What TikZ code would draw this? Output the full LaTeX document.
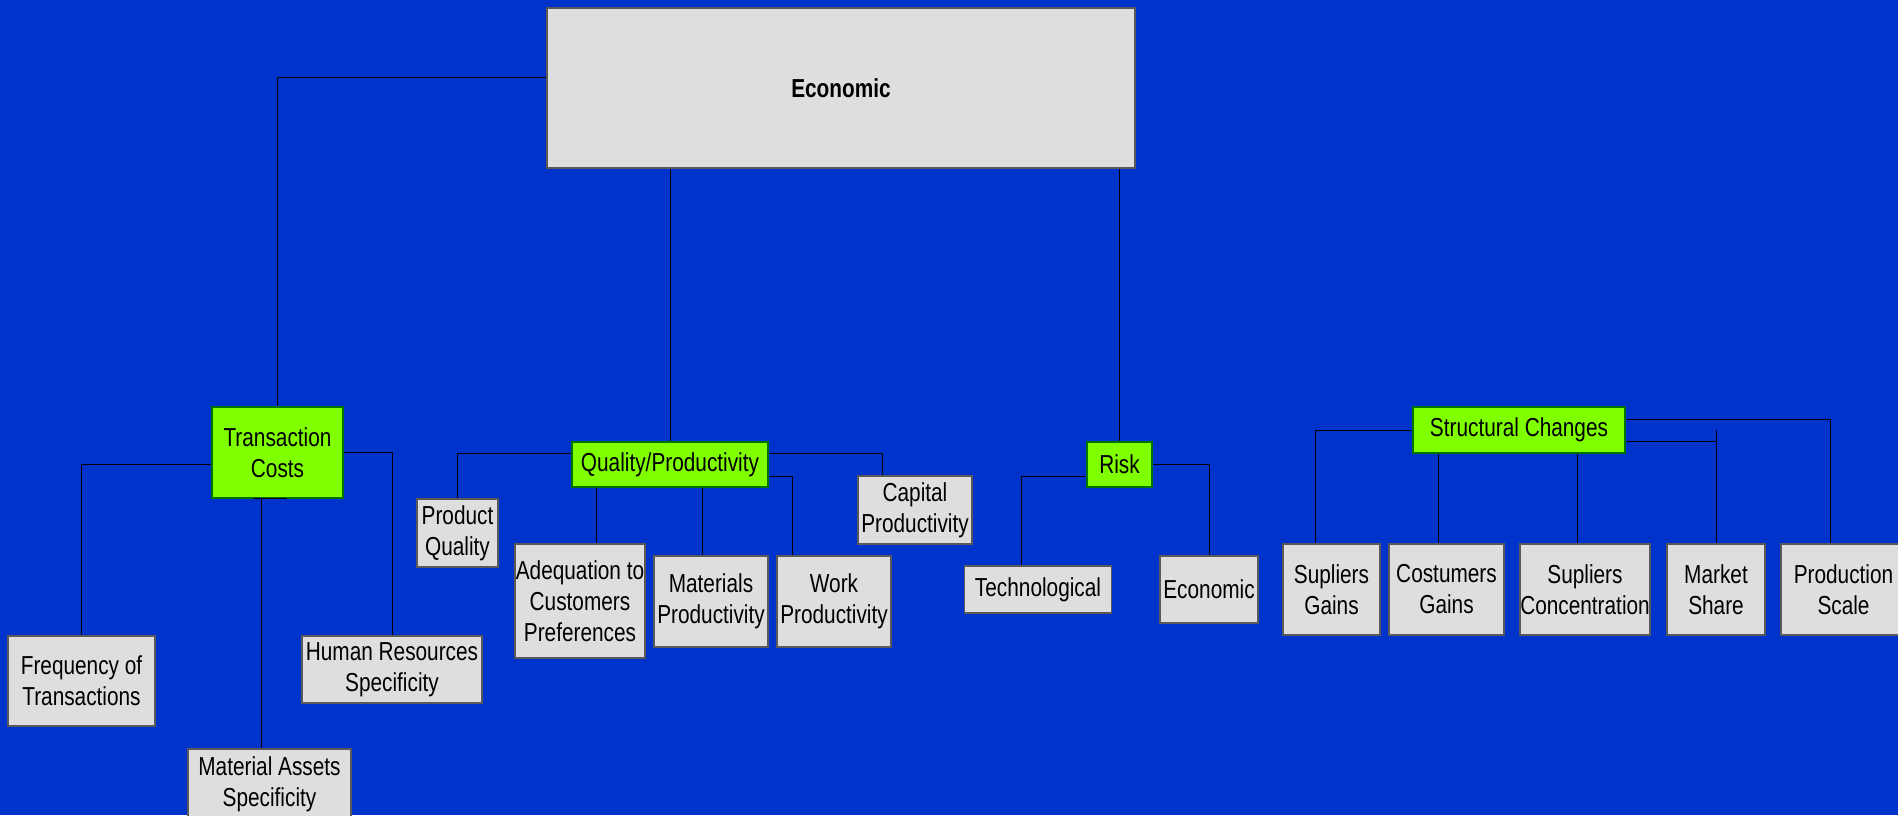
\documentclass[tikz,border=0pt]{standalone}
\usepackage{fontspec}
\setmainfont[FakeStretch=0.8]{Liberation Sans}
\definecolor{bgblue}{RGB}{0,51,204}
\definecolor{boxgray}{RGB}{222,222,222}
\definecolor{boxgreen}{RGB}{128,255,0}
\begin{document}
\begin{tikzpicture}[x=1pt,y=-1pt,
  every node/.style={inner sep=0pt, align=center, font=\fontsize{26}{31}\selectfont},
  graybox/.style={fill=boxgray, draw=black!65, line width=1.2pt},
  greenbox/.style={fill=boxgreen, draw=black!55!green, line width=1.2pt},
  link/.style={draw=black, line width=0.9pt}]
\clip (0,0) rectangle (1898,815);
\fill[bgblue] (0,0) rectangle (1898,815);
% boxes
\node[graybox, minimum width=588pt, minimum height=160pt, font=\fontsize{26}{31}\selectfont\bfseries] (econ) at (841,88) {Economic};
\node[greenbox, minimum width=131pt, minimum height=91pt] (tc) at (277.5,452.5) {Transaction\\Costs};
\node[graybox, minimum width=147pt, minimum height=90pt] (freq) at (81.5,681) {Frequency of\\Transactions};
\node[graybox, minimum width=163pt, minimum height=70pt] (mat) at (269.5,784) {Material Assets\\Specificity};
\node[graybox, minimum width=180pt, minimum height=67pt] (hr) at (392,669.5) {Human Resources\\Specificity};
\node[graybox, minimum width=81pt, minimum height=68pt] (pq) at (457.5,533) {Product\\Quality};
\node[greenbox, minimum width=196pt, minimum height=45pt] (qp) at (670,464.5) {Quality/Productivity};
\node[graybox, minimum width=130pt, minimum height=114pt] (adeq) at (580,601) {Adequation to\\Customers\\Preferences};
\node[graybox, minimum width=114pt, minimum height=91pt] (matp) at (711,601.5) {Materials\\Productivity};
\node[graybox, minimum width=114pt, minimum height=91pt] (work) at (834,601.5) {Work\\Productivity};
\node[graybox, minimum width=114pt, minimum height=68pt] (cap) at (915,510) {Capital\\Productivity};
\node[greenbox, minimum width=65pt, minimum height=45pt] (risk) at (1119.5,464.5) {Risk};
\node[graybox, minimum width=147pt, minimum height=47pt] (tech) at (1038,589.5) {Technological};
\node[graybox, minimum width=98pt, minimum height=67pt] (econb) at (1209,589.5) {Economic};
\node[greenbox, minimum width=212pt, minimum height=46pt] (sc) at (1519,430) {Structural Changes};
\node[graybox, minimum width=97pt, minimum height=91pt] (sg) at (1331.5,589.5) {Supliers\\Gains};
\node[graybox, minimum width=115pt, minimum height=91pt] (cg) at (1446.5,589.5) {Costumers\\Gains};
\node[graybox, minimum width=130pt, minimum height=91pt] (sconc) at (1585,589.5) {Supliers\\Concentration};
\node[graybox, minimum width=98pt, minimum height=91pt] (ms) at (1716,589.5) {Market\\Share};
\node[graybox, minimum width=125pt, minimum height=91pt] (ps) at (1843.5,589.5) {Production\\Scale};
% helper coordinates
\coordinate (ma) at ([xshift=-8.5pt]mat.north);
\coordinate (ad) at ([xshift=16pt]adeq.north);
\coordinate (mp) at ([xshift=-9pt]matp.north);
\coordinate (wk) at ([xshift=-42pt]work.north);
\coordinate (cp) at ([xshift=-33pt]cap.north);
\coordinate (tg) at ([xshift=-17pt]tech.north);
\coordinate (sgt) at ([xshift=-16.5pt]sg.north);
\coordinate (cgt) at ([xshift=-8pt]cg.north);
\coordinate (sct) at ([xshift=-7.5pt]sconc.north);
\coordinate (pst) at ([xshift=-13.5pt]ps.north);
% connectors
\draw[link] ([yshift=11pt]econ.west) -| (tc.north);
\draw[link] (econ.south -| qp.north) -- (qp.north);
\draw[link] (econ.south -| risk.north) -- (risk.north);
\draw[link] ([yshift=-11.5pt]tc.west) -| (freq.north);
\draw[link] (tc.south -| ma) -- (ma);
\draw[link] ([xshift=-24.5pt]tc.south) -- ([xshift=9.5pt]tc.south);
\draw[link] (tc.east) -| (hr.north);
\draw[link] ([yshift=11.5pt]qp.west) -| (pq.north);
\draw[link] (qp.south -| ad) -- (ad);
\draw[link] (qp.south -| mp) -- (mp);
\draw[link] ([yshift=-11.5pt]qp.east) -| (wk);
\draw[link] ([yshift=11.5pt]qp.east) -| (cp);
\draw[link] ([yshift=-11.5pt]risk.west) -| (tg);
\draw[link] (risk.east) -| (econb.north);
\draw[link] (sc.west) -| (sgt);
\draw[link] (sc.south -| cgt) -- (cgt);
\draw[link] (sc.south -| sct) -- (sct);
\draw[link] ([yshift=-11pt]sc.east) -| (ms.north);
\draw[link] (ms.north |- sc.east) -- ([yshift=-11pt]ms.north |- sc.east);
\draw[link] ([yshift=11pt]sc.east) -| (pst);
\end{tikzpicture}
\end{document}
